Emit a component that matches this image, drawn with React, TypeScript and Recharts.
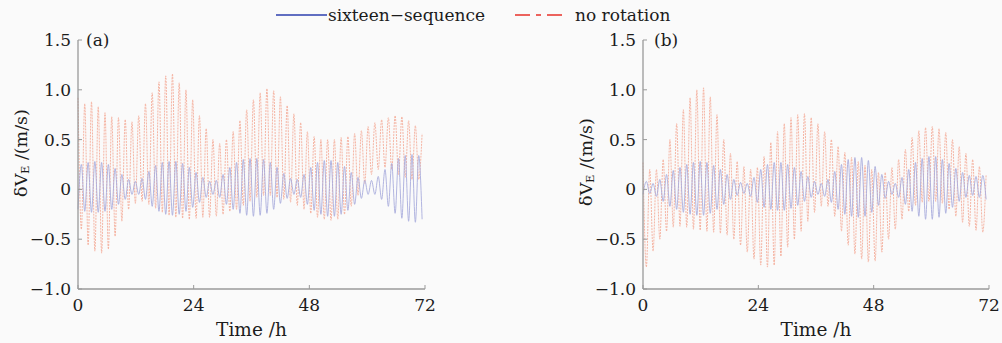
import React from 'react';
import { LineChart, Line, XAxis, YAxis } from 'recharts';

// Schuler oscillation is ~1.4 h, so the peaks/troughs read off the figure
// sit every half cycle (0.7 h) from t = 0 to 71.4 h.
const HALF_CYCLE = 0.7;

const timeTicks = [0, 24, 48, 72];
const velTicks = [-1, -0.5, 0, 0.5, 1, 1.5];

// ---- panel (a) ----
// no rotation: peaks at t = 0, 1.4, ...  troughs at t = 0.7, 2.1, ...
const noRotAHigh = [
  0.92, 0.86, 0.88, 0.83, 0.77, 0.73, 0.72, 0.7, 0.68, 0.74,
  0.86, 0.97, 1.08, 1.14, 1.16, 1.07, 1.0, 0.9, 0.74, 0.61,
  0.5, 0.46, 0.5, 0.58, 0.69, 0.8, 0.9, 0.97, 1.01, 0.99,
  0.93, 0.84, 0.76, 0.67, 0.58, 0.53, 0.5, 0.5, 0.5, 0.52,
  0.53, 0.56, 0.59, 0.63, 0.67, 0.7, 0.72, 0.74, 0.73, 0.69,
  0.64, 0.56,
];
const noRotALow = [
  -0.4, -0.56, -0.62, -0.64, -0.6, -0.47, -0.32, -0.2, -0.14, -0.12,
  -0.15, -0.19, -0.23, -0.26, -0.28, -0.29, -0.3, -0.29, -0.28, -0.28,
  -0.27, -0.25, -0.22, -0.2, -0.16, -0.12, -0.08, -0.06, -0.06, -0.08,
  -0.1, -0.13, -0.16, -0.2, -0.24, -0.28, -0.3, -0.31, -0.3, -0.25,
  -0.17, -0.06, 0.06, 0.15, 0.2, 0.22, 0.2, 0.15, 0.12, 0.1,
  0.1,
];
// sixteen-sequence: troughs at t = 0, 1.4, ...  peaks at t = 0.7, 2.1, ...
const seqALow = [
  -0.2, -0.22, -0.23, -0.23, -0.22, -0.2, -0.15, -0.1, -0.05, -0.05,
  -0.1, -0.17, -0.22, -0.25, -0.26, -0.25, -0.22, -0.18, -0.13, -0.08,
  -0.05, -0.08, -0.15, -0.2, -0.24, -0.26, -0.27, -0.26, -0.24, -0.2,
  -0.14, -0.09, -0.05, -0.08, -0.15, -0.21, -0.25, -0.27, -0.27, -0.25,
  -0.21, -0.15, -0.09, -0.05, -0.05, -0.1, -0.17, -0.24, -0.29, -0.32,
  -0.33, -0.3,
];
const seqAHigh = [
  0.25, 0.27, 0.28, 0.27, 0.25, 0.21, 0.15, 0.1, 0.08, 0.11,
  0.18, 0.24, 0.27, 0.28, 0.28, 0.26, 0.22, 0.17, 0.12, 0.08,
  0.09, 0.15, 0.22, 0.27, 0.3, 0.31, 0.31, 0.3, 0.27, 0.22,
  0.16, 0.11, 0.1, 0.15, 0.22, 0.27, 0.29, 0.29, 0.27, 0.23,
  0.17, 0.12, 0.09, 0.09, 0.13, 0.2, 0.26, 0.31, 0.34, 0.35,
  0.34,
];

// ---- panel (b) ----
const noRotBHigh = [
  0.27, 0.2, 0.2, 0.3, 0.5, 0.66, 0.8, 0.92, 1.0, 1.02,
  0.93, 0.75, 0.5, 0.36, 0.28, 0.23, 0.2, 0.22, 0.33, 0.47,
  0.58, 0.66, 0.72, 0.75, 0.76, 0.72, 0.66, 0.58, 0.5, 0.43,
  0.37, 0.32, 0.28, 0.24, 0.2, 0.17, 0.17, 0.22, 0.3, 0.4,
  0.52, 0.59, 0.62, 0.63, 0.61, 0.57, 0.5, 0.43, 0.36, 0.3,
  0.23, 0.15,
];
const noRotBLow = [
  -0.78, -0.62, -0.5, -0.42, -0.38, -0.37, -0.38, -0.4, -0.41, -0.42,
  -0.43, -0.44, -0.46, -0.5, -0.56, -0.63, -0.7, -0.76, -0.78, -0.76,
  -0.67, -0.58, -0.5, -0.42, -0.32, -0.23, -0.17, -0.17, -0.27, -0.42,
  -0.56, -0.65, -0.7, -0.73, -0.72, -0.63, -0.5, -0.4, -0.3, -0.22,
  -0.16, -0.13, -0.12, -0.12, -0.14, -0.2, -0.27, -0.33, -0.37, -0.41,
  -0.43,
];
const seqBLow = [
  -0.05, -0.04, -0.07, -0.12, -0.17, -0.2, -0.23, -0.25, -0.26, -0.26,
  -0.24, -0.2, -0.15, -0.1, -0.06, -0.04, -0.07, -0.13, -0.18, -0.2,
  -0.21, -0.21, -0.19, -0.16, -0.12, -0.08, -0.05, -0.07, -0.13, -0.2,
  -0.25, -0.27, -0.28, -0.27, -0.23, -0.16, -0.09, -0.05, -0.08, -0.15,
  -0.22, -0.27, -0.3, -0.3, -0.28, -0.24, -0.18, -0.12, -0.08, -0.06,
  -0.08, -0.1,
];
const seqBHigh = [
  0.08, 0.06, 0.1, 0.15, 0.19, 0.22, 0.25, 0.27, 0.28, 0.27,
  0.24, 0.2, 0.15, 0.1, 0.07, 0.06, 0.12, 0.2, 0.25, 0.27,
  0.27, 0.25, 0.22, 0.18, 0.13, 0.08, 0.06, 0.1, 0.18, 0.25,
  0.3, 0.32, 0.32, 0.29, 0.23, 0.15, 0.08, 0.06, 0.12, 0.2,
  0.27, 0.31, 0.33, 0.33, 0.3, 0.26, 0.21, 0.17, 0.14, 0.13,
  0.14,
];

const FONT = '"DejaVu Serif", serif';
const AXIS = '#9a9a9a';
const INK = '#1c1c1c';
const RED = '#f4ad9a';
const BLUE = '#a9addd';

// interleave the extremes read at even / odd half cycles
function buildRows(redEven: number[], redOdd: number[], blueEven: number[], blueOdd: number[]) {
  const n = redEven.length + redOdd.length;
  const rows = [];
  for (let i = 0; i < n; i++) {
    const even = i % 2 === 0;
    const k = even ? i / 2 : (i - 1) / 2;
    rows.push({
      t: +(i * HALF_CYCLE).toFixed(1),
      noRot: even ? redEven[k] : redOdd[k],
      seq: even ? blueEven[k] : blueOdd[k],
    });
  }
  return rows;
}

const rowsA = buildRows(noRotAHigh, noRotALow, seqALow, seqAHigh);
const rowsB = buildRows(noRotBHigh, noRotBLow, seqBLow, seqBHigh);

const fmtVel = (v: number) => (v === 0 ? '0' : (v < 0 ? '\u2212' : '') + Math.abs(v).toFixed(1));

function Panel({ rows, left, width, right }: { rows: any[]; left: number; width: number; right: number }) {
  const tickStyle = { fill: INK, fontSize: 17, fontFamily: FONT };
  return (
    <div style={{ position: 'absolute', left, top: 0 }}>
      <LineChart width={width} height={343} data={rows} margin={{ top: 40, right, bottom: 0, left: 0 }}>
        <XAxis
          dataKey="t"
          type="number"
          domain={[0, 72]}
          ticks={timeTicks}
          height={54}
          axisLine={{ stroke: AXIS, strokeWidth: 1.3 }}
          tickLine={{ stroke: AXIS }}
          tickSize={-4}
          tickMargin={14}
          tick={tickStyle}
          interval={0}
        />
        <YAxis
          type="number"
          domain={[-1, 1.5]}
          ticks={velTicks}
          width={78}
          axisLine={{ stroke: AXIS, strokeWidth: 1.3 }}
          tickLine={{ stroke: AXIS }}
          tickSize={-4}
          tickMargin={11}
          tick={tickStyle}
          tickFormatter={fmtVel}
          interval={0}
          allowDataOverflow
        />
        <Line
          dataKey="noRot"
          type="monotone"
          stroke={RED}
          strokeWidth={0.9}
          strokeDasharray="2 1"
          dot={false}
          isAnimationActive={false}
        />
        <Line dataKey="seq" type="monotone" stroke={BLUE} strokeWidth={0.9} dot={false} isAnimationActive={false} />
      </LineChart>
    </div>
  );
}

function YLabel({ x, y }: { x: number; y: number }) {
  return (
    <text transform={`translate(${x} ${y}) rotate(-90)`} textAnchor="middle" fontSize={17.5} fontFamily={FONT} fill={INK}>
      δV
      <tspan fontSize={11} dy={2}>
        E
      </tspan>
      <tspan dy={-2}> /(m/s)</tspan>
    </text>
  );
}

export default function App() {
  return (
    <div style={{ position: 'absolute', left: 0, top: 0, width: 1002, height: 343, background: '#fafafa', overflow: 'hidden' }}>
      <Panel rows={rowsA} left={0} width={440} right={15} />
      <Panel rows={rowsB} left={565} width={437} right={13} />
      <svg width={1002} height={343} style={{ position: 'absolute', left: 0, top: 0, pointerEvents: 'none' }}>
        <g fontFamily={FONT} fontSize={17} fill={INK}>
          <line x1={276} x2={327} y1={15} y2={15} stroke="#2d3fae" strokeWidth={1.6} />
          <text x={328} y={20.5}>sixteen−sequence</text>
          <line x1={515} x2={564} y1={15} y2={15} stroke="#e8322a" strokeWidth={1.6} strokeDasharray="15 6 5 6 15" />
          <text x={575} y={20.5}>no rotation</text>
          <text x={86} y={46}>(a)</text>
          <text x={654} y={46}>(b)</text>
          <text x={251.5} y={336} textAnchor="middle" fontSize={18.5}>Time /h</text>
          <text x={816} y={336} textAnchor="middle" fontSize={18.5}>Time /h</text>
        </g>
        <YLabel x={27} y={153} />
        <YLabel x={592} y={162} />
      </svg>
    </div>
  );
}
